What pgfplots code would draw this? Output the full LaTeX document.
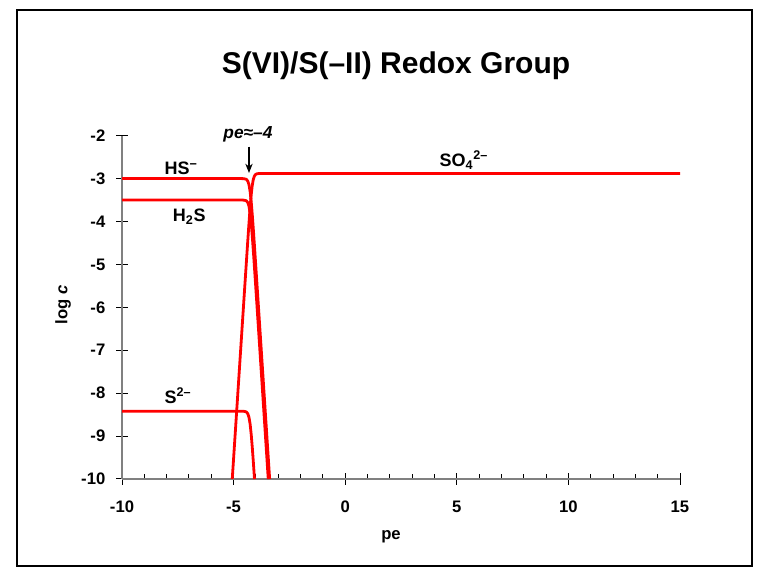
\documentclass[border=0pt]{standalone}
\usepackage{fontspec}
\setmainfont{Liberation Sans}
\usepackage{pgfplots}
\pgfplotsset{compat=1.18}
\usetikzlibrary{arrows.meta}

\begin{document}
\begin{tikzpicture}[x=0.75pt,y=0.75pt]
% page and frame (pixel units, y up)
\path (0,0) rectangle (758,568);
\draw[line width=1.5pt,black] (17,558) rectangle (752,2);

\begin{axis}[
  at={(91.5pt,66.75pt)},anchor=south west,
  scale only axis,width=418.5pt,height=257.5pt,
  xmin=-10,xmax=15,ymin=-10,ymax=-2,
  xtick={-10,-5,...,15},ytick={-10,-9,...,-2},
  minor x tick num=4,
  axis x line*=bottom,axis y line*=left,
  axis line style={-,gray,line width=1.1pt},
  tick align=inside,
  major tick length=9pt,minor tick length=3.4pt,
  tick style={black,line width=0.75pt},
  every major x tick/.append style={yshift=-4.5pt},
  every major y tick/.append style={xshift=-4.5pt},
  /pgf/number format/assume math mode=true,
  ticklabel style={font=\bfseries\fontsize{12.5}{14}\selectfont},
  xticklabel style={yshift=-13pt},
  yticklabel style={xshift=-9pt},
  clip=false,
]
% SO4^2-
\addplot[red,line width=2.1pt] coordinates {
  (-5.06,-10.0) (-4.87,-8.48) (-4.67,-6.88) (-4.47,-5.2817) (-4.37,-4.4907)
  (-4.32,-4.1066) (-4.27,-3.7439) (-4.22,-3.4256) (-4.17,-3.181) (-4.12,-3.0256)
  (-4.07,-2.9439) (-4.02,-2.9066) (-3.97,-2.8908) (-3.87,-2.8817) (15,-2.88)};
% HS-
\addplot[red,line width=2.1pt] coordinates {
  (-10,-3.0) (-4.66,-3.0) (-4.56,-3.0017) (-4.46,-3.0108) (-4.41,-3.0266)
  (-4.36,-3.0639) (-4.31,-3.1456) (-4.26,-3.301) (-4.21,-3.5456) (-4.16,-3.8639)
  (-4.11,-4.2266) (-4.06,-4.6107) (-3.96,-5.4017) (-3.76,-7.0) (-3.56,-8.6) (-3.385,-10.0)};
% H2S
\addplot[red,line width=2.1pt] coordinates {
  (-10,-3.5) (-4.66,-3.5) (-4.56,-3.5017) (-4.46,-3.5108) (-4.41,-3.5266)
  (-4.36,-3.5639) (-4.31,-3.6456) (-4.26,-3.801) (-4.21,-4.0456) (-4.16,-4.3639)
  (-4.11,-4.7266) (-4.06,-5.1107) (-3.96,-5.9017) (-3.76,-7.5) (-3.56,-9.1) (-3.4475,-10.0)};
% S2-
\addplot[red,line width=2.1pt] coordinates {
  (-10,-8.42) (-4.56,-8.4217) (-4.46,-8.4308) (-4.41,-8.4466) (-4.36,-8.4839)
  (-4.31,-8.5656) (-4.26,-8.721) (-4.21,-8.9656) (-4.16,-9.2839) (-4.11,-9.6466) (-4.064,-10.0)};

\node[font=\bfseries\fontsize{13.5}{15}\selectfont,anchor=base west] at (axis cs:-8.30,-2.916) {HS\textsuperscript{−}};
\node[font=\bfseries\fontsize{13.5}{15}\selectfont,anchor=base west] at (axis cs:-7.93,-4.004) {H\textsubscript{2}S};
\node[font=\bfseries\fontsize{13.5}{15}\selectfont,anchor=base west] at (axis cs:-8.30,-8.25) {S\textsuperscript{2–}};
\node[font=\bfseries\fontsize{13.5}{15}\selectfont,anchor=base west] at (axis cs:4.02,-2.72) {SO\textsubscript{4}\textsuperscript{2–}};
\node[font=\bfseries\itshape\fontsize{13}{15}\selectfont] at (axis cs:-4.355,-1.98) {pe≈–4};
\draw[-{Stealth[length=7pt,width=5.5pt]},line width=0.8pt] (axis cs:-4.31,-2.256) -- (axis cs:-4.31,-2.87);
\end{axis}

\node[font=\bfseries\fontsize{22.5}{26}\selectfont] at (396,502) {S(VI)/S(–II) Redox Group};
\node[font=\bfseries\fontsize{12.5}{14}\selectfont] at (391,31) {pe};
\node[font=\bfseries\fontsize{12.5}{14}\selectfont,rotate=90] at (63,263) {log \textit{c}};
\end{tikzpicture}
\end{document}
